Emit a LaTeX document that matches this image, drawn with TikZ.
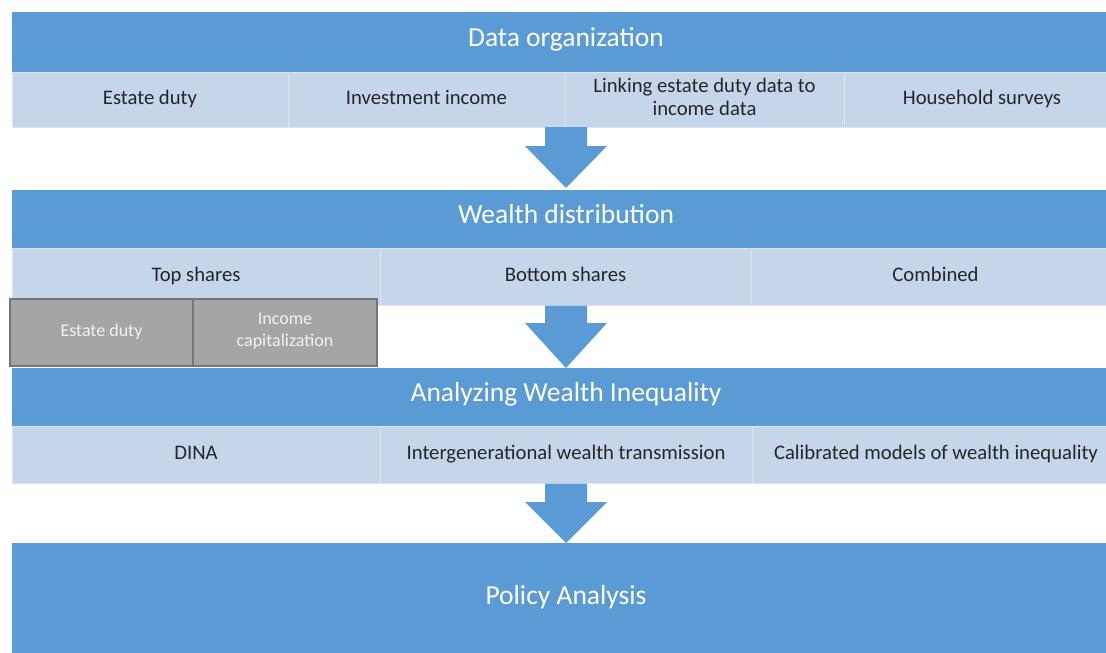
\documentclass[tikz,border=0pt]{standalone}
\usepackage{fontspec}
\setmainfont{Carlito}
\newcommand\cellstrut{\rule[-5.6pt]{0pt}{20.2pt}}
\newcommand\bandstrut{\rule[-9.4pt]{0pt}{22pt}}
\newcommand\graystrut{\rule[-5.5pt]{0pt}{17.5pt}}
\definecolor{bandblue}{HTML}{5B9BD5}
\definecolor{celllight}{HTML}{C5D5EA}
\definecolor{celledge}{HTML}{DCE6F3}
\definecolor{celltext}{HTML}{262626}
\definecolor{grayfill}{HTML}{A5A5A5}
\definecolor{grayedge}{HTML}{767676}
\definecolor{graytext}{HTML}{F2F2F2}
\tikzset{
  band/.style={execute at begin node=\bandstrut, execute at end node=\bandstrut, fill=bandblue, draw=none, inner sep=0pt, minimum width=1108pt, text=white, font=\fontsize{27.5}{33}\selectfont},
  cell/.style={execute at begin node=\cellstrut, execute at end node=\cellstrut, fill=celllight, draw=celledge, line width=1pt, inner sep=0pt, text=celltext, align=center, font=\fontsize{20.7}{22.3}\selectfont},
  graybox/.style={execute at begin node=\graystrut, execute at end node=\graystrut, fill=grayfill, draw=grayedge, line width=2pt, inner sep=0pt, text=graytext, align=center, minimum height=67pt, font=\fontsize{18}{22.3}\selectfont},
  blockarrow/.style={fill=bandblue, draw=none}
}
\begin{document}
\begin{tikzpicture}[x=1pt,y=-1pt]
\clip (0,0) rectangle (1106,653);
\fill[white] (0,0) rectangle (1106,653);
% band 1
\node[band, minimum height=60pt] (b1) at (566,42) {Data organization};
\node[cell, minimum width=276pt, minimum height=55pt] (c11) at (150,99.5) {Estate duty};
\node[cell, minimum width=277pt, minimum height=55pt] (c12) at (426.5,99.5) {Investment income};
\node[cell, minimum width=279pt, minimum height=55pt] (c13) at (704.5,99.5) {Linking estate duty data to\\income data};
\node[cell, minimum width=276pt, minimum height=55pt] (c14) at (982,99.5) {Household surveys};
% band 2
\node[band, minimum height=58pt] (b2) at (566,219) {Wealth distribution};
\node[cell, minimum width=368pt, minimum height=57pt] (c21) at (196,276.5) {Top shares};
\node[cell, minimum width=371pt, minimum height=57pt] (c22) at (565.5,276.5) {Bottom shares};
\node[cell, minimum width=369pt, minimum height=57pt] (c23) at (935.5,276.5) {Combined};
\node[graybox, minimum width=183pt] (g1) at (101.5,332.5) {Estate duty};
\node[graybox, minimum width=184pt] (g2) at (285,332.5) {Income\\capitalization};
% band 3
\node[band, minimum height=58pt] (b3) at (566,397) {Analyzing Wealth Inequality};
\node[cell, minimum width=368pt, minimum height=57pt] (c31) at (196,454.5) {DINA};
\node[cell, minimum width=372pt, minimum height=57pt] (c32) at (566,454.5) {Intergenerational wealth transmission};
\node[cell, minimum width=368pt, minimum height=57pt] (c33) at (936,454.5) {Calibrated models of wealth inequality};
% band 4
\node[band, minimum height=114pt] (b4) at (566,600) {Policy Analysis};
% block arrows
\fill[blockarrow] (545,127) -- (587,127) -- (587,146) -- (607,146) -- (566,188) -- (525,146) -- (545,146) -- cycle;
\fill[blockarrow] (545,305.5) -- (587,305.5) -- (587,323) -- (607,323) -- (566,368) -- (525,323) -- (545,323) -- cycle;
\fill[blockarrow] (545,483.5) -- (587,483.5) -- (587,502) -- (607,502) -- (566,543) -- (525,502) -- (545,502) -- cycle;
\end{tikzpicture}
\end{document}
